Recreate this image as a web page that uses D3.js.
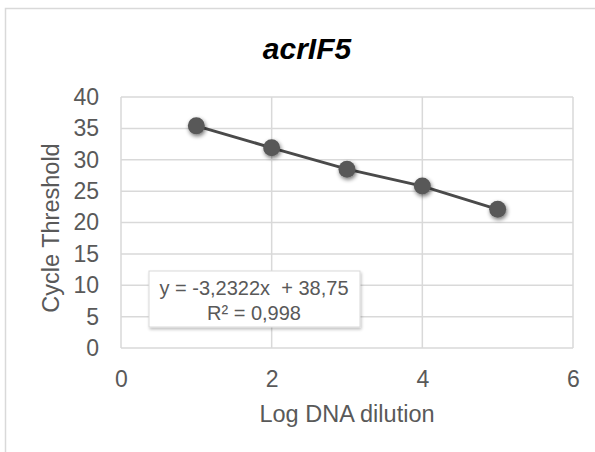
<!DOCTYPE html>
<html>
<head>
<meta charset="utf-8">
<script src="https://cdn.jsdelivr.net/npm/d3@7"></script>
<style>
  body { margin: 0; background: #fff; }
  svg { display: block; font-family: "Liberation Sans", Arial, sans-serif; }
</style>
</head>
<body>
<svg width="595" height="452"></svg>
<script>
var logDilution = [1, 2, 3, 4, 5];
var cycleThreshold = [35.4, 31.9, 28.5, 25.8, 22.1];
var xTicks = [0, 2, 4, 6];
var yTicks = [0, 5, 10, 15, 20, 25, 30, 35, 40];
var titleText = 'acrIF5';
var equationLines = ['y = -3,2322x  + 38,75', 'R\u00b2 = 0,998'];

var svg = d3.select('svg');
var margin = { left: 121, right: 22, top: 97, bottom: 104 };
var width = 595 - margin.left - margin.right;
var height = 452 - margin.top - margin.bottom;

var x = d3.scaleLinear().domain([0, 6]).range([0, width]);
var y = d3.scaleLinear().domain([0, 40]).range([height, 0]);

// outer chart frame (left + top visible)
svg.append('path')
    .attr('d', 'M5.5,452 V8.5 H595')
    .attr('fill', 'none')
    .attr('stroke', '#d9d9d9')
    .attr('stroke-width', 1.5);

var defs = svg.append('defs');
var shadow = defs.append('filter').attr('id', 'shadow')
    .attr('x', '-50%').attr('y', '-50%').attr('width', '200%').attr('height', '200%');
shadow.append('feGaussianBlur').attr('in', 'SourceAlpha').attr('stdDeviation', 2);
shadow.append('feOffset').attr('dx', 0.5).attr('dy', 1.5).attr('result', 'off');
shadow.append('feComponentTransfer').append('feFuncA').attr('type', 'linear').attr('slope', 0.55);
var merge = shadow.append('feMerge');
merge.append('feMergeNode');
merge.append('feMergeNode').attr('in', 'SourceGraphic');

var boxShadow = defs.append('filter').attr('id', 'boxShadow')
    .attr('x', '-10%').attr('y', '-20%').attr('width', '120%').attr('height', '140%');
boxShadow.append('feGaussianBlur').attr('in', 'SourceAlpha').attr('stdDeviation', 1.5);
boxShadow.append('feOffset').attr('dx', 1).attr('dy', 1.5);
boxShadow.append('feComponentTransfer').append('feFuncA').attr('type', 'linear').attr('slope', 0.25);
var merge2 = boxShadow.append('feMerge');
merge2.append('feMergeNode');
merge2.append('feMergeNode').attr('in', 'SourceGraphic');

svg.append('text')
    .attr('x', 307)
    .attr('y', 59)
    .attr('text-anchor', 'middle')
    .style('font-size', '30px')
    .style('font-weight', 'bold')
    .style('font-style', 'italic')
    .style('fill', '#000')
    .text(titleText);

var g = svg.append('g').attr('transform', 'translate(' + margin.left + ',' + margin.top + ')');

// gridlines
g.selectAll('.hgrid').data(yTicks).enter().append('line')
    .attr('x1', 0).attr('x2', width)
    .attr('y1', function (d) { return y(d); })
    .attr('y2', function (d) { return y(d); })
    .attr('stroke', '#d9d9d9').attr('stroke-width', 1.5);
g.selectAll('.vgrid').data(xTicks).enter().append('line')
    .attr('y1', 0).attr('y2', height)
    .attr('x1', function (d) { return x(d); })
    .attr('x2', function (d) { return x(d); })
    .attr('stroke', '#d9d9d9').attr('stroke-width', 1.5);

// axes (labels only)
var yAxis = g.append('g').call(d3.axisLeft(y).tickValues(yTicks).tickSize(0).tickPadding(22));
var xAxis = g.append('g').attr('transform', 'translate(0,' + height + ')')
    .call(d3.axisBottom(x).tickValues(xTicks).tickFormat(d3.format('d')).tickSize(0).tickPadding(22.5));
[yAxis, xAxis].forEach(function (ax) {
    ax.select('.domain').remove();
    ax.selectAll('text')
        .style('font-size', '23px')
        .style('fill', '#595959')
        .style('font-family', '"Liberation Sans", Arial, sans-serif');
});

// axis titles
svg.append('text')
    .attr('x', margin.left + width / 2)
    .attr('y', 422)
    .attr('text-anchor', 'middle')
    .style('font-size', '23.5px')
    .style('fill', '#595959')
    .text('Log DNA dilution');
svg.append('text')
    .attr('transform', 'translate(59,' + 228 + ') rotate(-90)')
    .attr('text-anchor', 'middle')
    .style('font-size', '23.5px')
    .style('fill', '#595959')
    .text('Cycle Threshold');

// series
var pts = logDilution.map(function (d, i) { return [d, cycleThreshold[i]]; });
g.append('path')
    .datum(pts)
    .attr('fill', 'none')
    .attr('stroke', '#4a4a4a')
    .attr('stroke-width', 3)
    .attr('d', d3.line()
        .x(function (d) { return x(d[0]); })
        .y(function (d) { return y(d[1]); }));
g.selectAll('circle').data(pts).enter().append('circle')
    .attr('cx', function (d) { return x(d[0]); })
    .attr('cy', function (d) { return y(d[1]); })
    .attr('r', 8.5)
    .attr('fill', '#595959')
    .attr('filter', 'url(#shadow)');

// equation label
var box = svg.append('g');
box.append('rect')
    .attr('x', 149).attr('y', 271)
    .attr('width', 211).attr('height', 56)
    .attr('fill', '#fff')
    .attr('stroke', '#d9d9d9')
    .attr('stroke-width', 1)
    .attr('filter', 'url(#boxShadow)');
box.selectAll('text').data(equationLines).enter().append('text')
    .attr('x', 254)
    .attr('y', function (d, i) { return 295 + i * 25; })
    .attr('text-anchor', 'middle')
    .style('white-space', 'pre')
    .style('font-size', '20px')
    .style('fill', '#595959')
    .text(function (d) { return d; });
</script>
</body>
</html>
